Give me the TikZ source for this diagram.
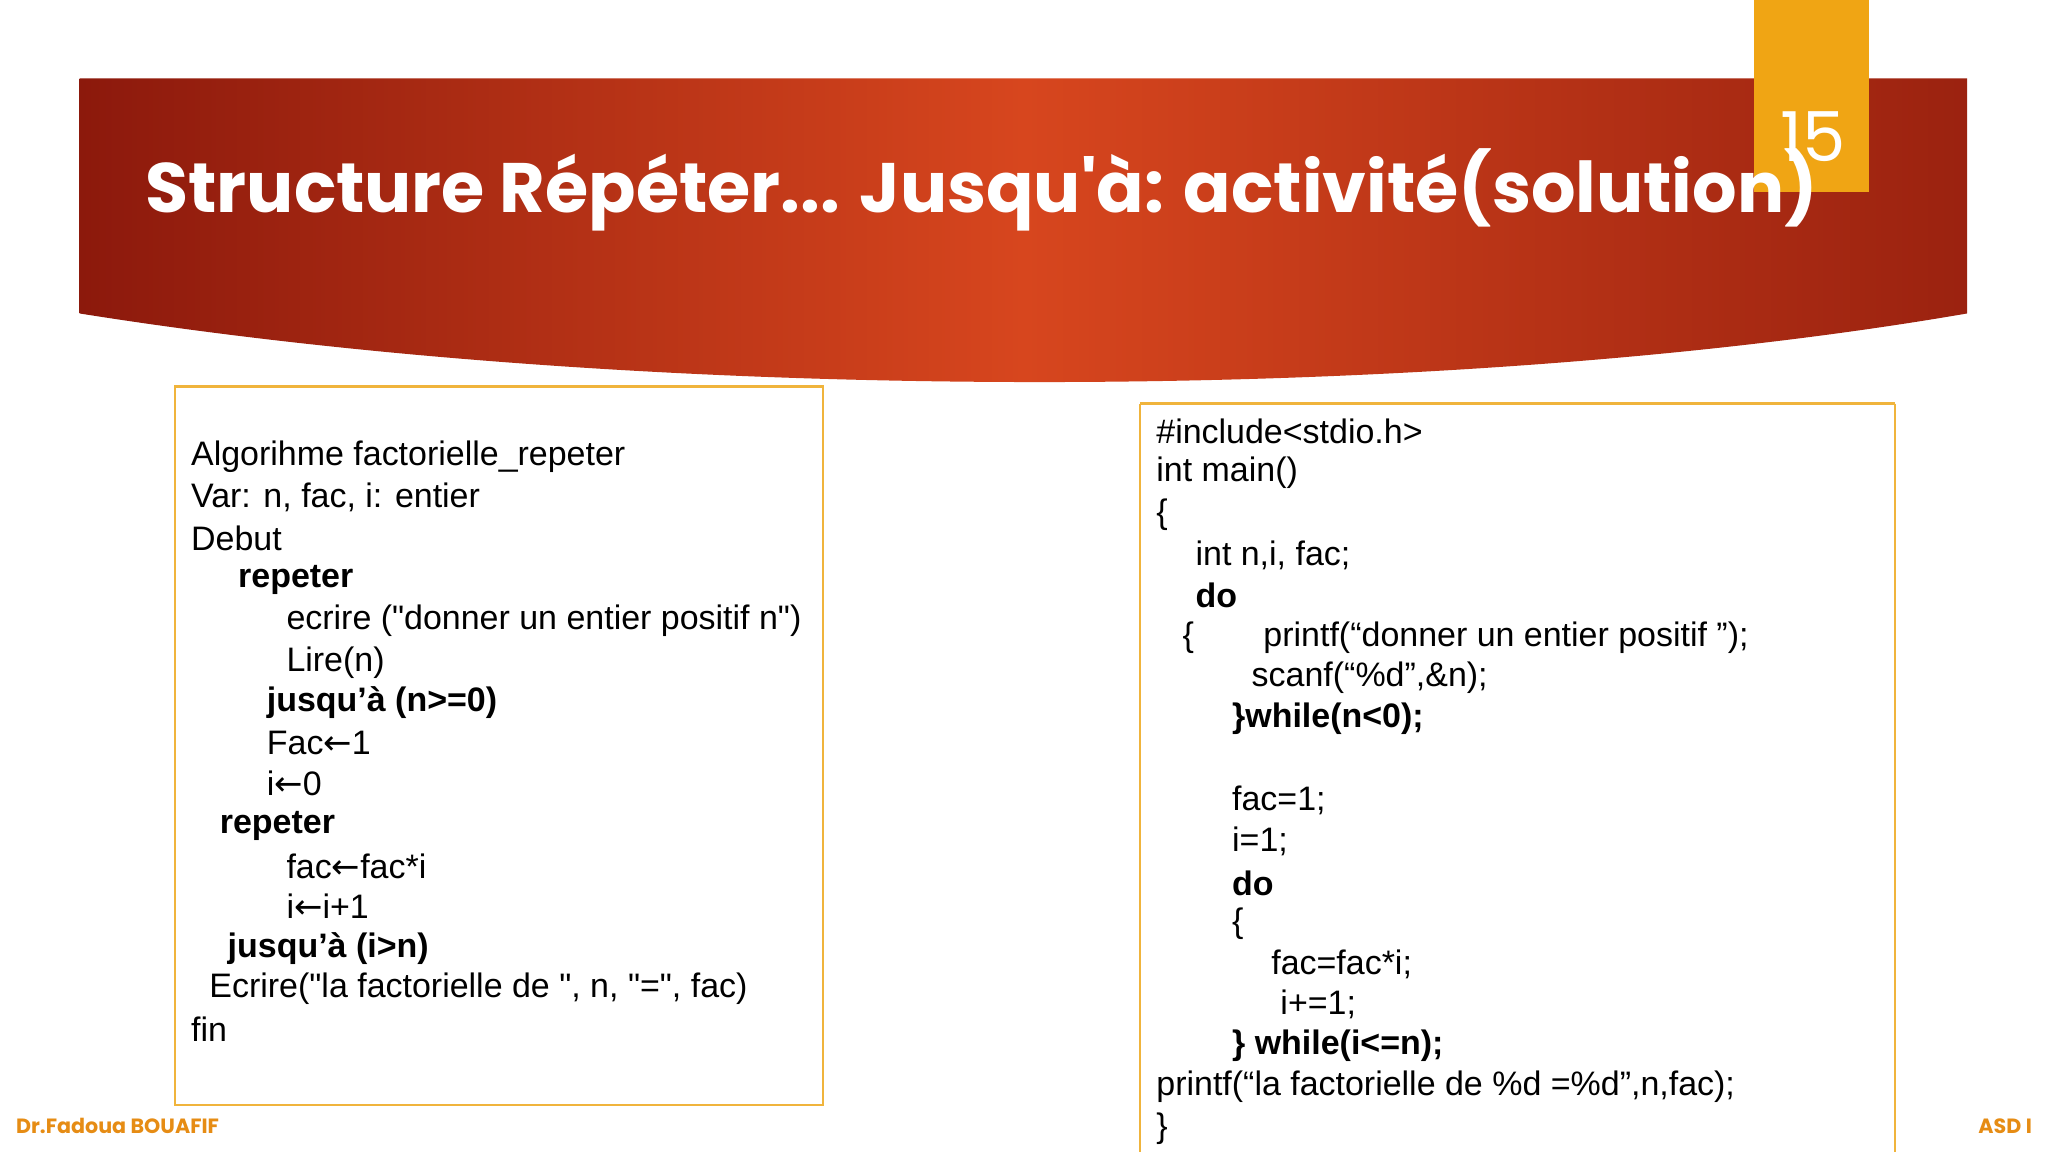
\documentclass[tikz,border=0pt]{standalone}
\usepackage{fontspec}
\setmainfont{Liberation Sans}
\newfontfamily\qf{Liberation Sans}
\newfontfamily\titlefont{Poppins}
\newfontfamily\arrfont{DejaVu Sans}
\definecolor{boxor}{RGB}{240,180,60}
\definecolor{tab}{RGB}{240,165,20}
\definecolor{dred}{RGB}{140,25,12}
\definecolor{mred}{RGB}{215,70,30}
\definecolor{foot}{RGB}{230,140,20}
\newcommand{\la}{{\arrfont\char"2190}}
\newcommand{\dq}{{\qf\char"22}}
\begin{document}
\begin{tikzpicture}[x=0.02cm,y=-0.02cm,
  cl/.style={anchor=west,inner sep=0pt,font=\fontsize{14.8}{17}\selectfont},
  cb/.style={cl,font=\fontsize{14.8}{17}\selectfont\bfseries},
  codebox/.style={draw=boxor,line width=1pt}]
\useasboundingbox (0,0) rectangle (1568,882);
\fill[white] (0,0) rectangle (1568,882);
\shade[left color=dred,right color=dred!80!mred,middle color=mred]
  (61,60) -- (1506,60) -- (1506,240) .. controls (1100,310) and (500,310) .. (61,240) -- cycle;
\fill[tab] (1343,0) rectangle (1431,147);
\node[text=white,font=\titlefont\fontsize{30}{30}\selectfont] (num) at (1388,105) {15};
\node[anchor=west,inner sep=0pt,text=white,font=\titlefont\bfseries\fontsize{30.5}{34}\selectfont] (title) at (111,145) {Structure Répéter... Jusqu'à: activité(solution)};
\draw[codebox] (134,296) rectangle (630,846);
\draw[codebox] (873,309) -- (873,882) (1451,309) -- (1451,882) (873,309) -- (1451,309);
\node[cl] (l1) at (146,350) {Algorihme factorielle\_repeter};
\node[cl] (l2) at (146,381) {Var: n, fac, i: entier};
\node[cl] (l3) at (146,412) {Debut};
\node[cb] (l4) at (182,444) {repeter};
\node[cl] (l5) at (219,475) {ecrire (\dq donner un entier positif n\dq)};
\node[cl] (l6) at (219,507) {Lire(n)};
\node[cb] (l7) at (204,538) {jusqu’à (n>=0)};
\node[cl] (l8) at (204,569) {Fac\la1};
\node[cl] (l9) at (204,600) {i\la0};
\node[cb] (l10) at (168,632) {repeter};
\node[cl] (l11) at (219,663) {fac\la fac*i};
\node[cl] (l12) at (219,694) {i\la i+1};
\node[cb] (l13) at (174,726) {jusqu’à (i>n)};
\node[cl] (l14) at (160,757) {Ecrire(\dq la factorielle de \dq, n, \dq=\dq, fac)};
\node[cl] (l15) at (146,788) {fin};
\node[cl] (r1) at (885,330) {\#include<stdio.h>};
\node[cl] (r2) at (885,362) {int main()};
\node[cl] (r3) at (885,394) {\{};
\node[cl] (r4) at (915,425) {int n,i, fac;};
\node[cb] (r5) at (915,456) {do};
\node[cl] (r6a) at (905,488) {\{};
\node[cl] (r6) at (967,488) {printf(“donner un entier positif ”);};
\node[cl] (r7) at (958,519) {scanf(“\%d”,\&n);};
\node[cb] (r8) at (943,550) {\}while(n<0);};
\node[cl] (r9) at (943,613) {fac=1;};
\node[cl] (r10) at (943,644) {i=1;};
\node[cb] (r11) at (943,676) {do};
\node[cl] (r12) at (943,707) {\{};
\node[cl] (r13) at (973,738) {fac=fac*i;};
\node[cl] (r14) at (980,769) {i+=1;};
\node[cb] (r15) at (943,801) {\} while(i<=n);};
\node[cl] (r16) at (885,832) {printf(“la factorielle de \%d =\%d”,n,fac);};
\node[cl] (r17) at (885,864) {\}};
\node[anchor=west,inner sep=0pt,text=foot,font=\titlefont\bfseries\fontsize{9}{10}\selectfont] (f1) at (12,862) {Dr.Fadoua BOUAFIF};
\node[anchor=east,inner sep=0pt,text=foot,font=\titlefont\bfseries\fontsize{9}{10}\selectfont] (f2) at (1556,862) {ASD I};
\end{tikzpicture}
\end{document}
